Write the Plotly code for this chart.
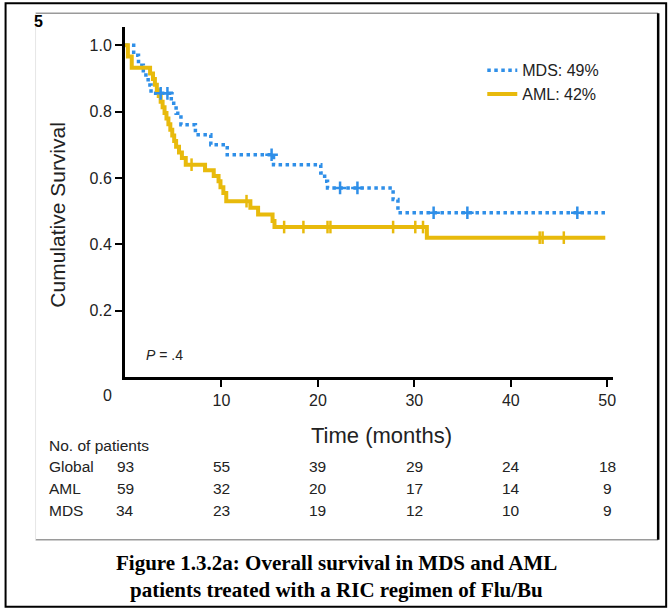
import numpy as np
import plotly.graph_objects as go

# ---------------- data ----------------
mds_t = [0, 0.9, 1.4, 1.9, 2.4, 2.7, 4.8, 5.3, 5.8, 7.3, 8.9, 10.6, 15.4, 20.3, 20.7, 21.0, 27.8, 28.3, 49.8]
mds_s = [1.0, 0.97, 0.94, 0.91, 0.88, 0.855, 0.825, 0.795, 0.76, 0.73, 0.70, 0.67, 0.64, 0.615, 0.59, 0.57, 0.535, 0.495, 0.495]
mds_cens = [3.7, 4.4, 15.2, 22.3, 24.1, 32.0, 35.5, 46.9]

aml_t = [0, 0.3, 0.7, 2.6, 2.9, 3.1, 3.3, 3.5, 3.7, 3.9, 4.1, 4.3, 4.5, 4.7, 4.9, 5.1, 5.3, 5.6, 5.9, 6.3,
         8.3, 9.2, 9.7, 9.9, 10.2, 10.5, 13.0, 13.8, 15.3, 15.5, 31.3, 49.8]
aml_s = [1.0, 0.966, 0.932, 0.915, 0.898, 0.881, 0.864, 0.847, 0.83, 0.813, 0.796, 0.779, 0.762, 0.745,
         0.728, 0.711, 0.694, 0.677, 0.66, 0.64, 0.623, 0.606, 0.59, 0.572, 0.555, 0.53, 0.51, 0.49,
         0.47, 0.452, 0.42, 0.42]
aml_cens = [6.9, 12.6, 16.5, 18.5, 21.0, 21.3, 27.8, 30.1, 30.9, 43.0, 43.3, 45.5]

legend_names = ["MDS: 49%", "AML: 42%"]

x_ticks = [10, 20, 30, 40, 50]
y_ticks = [0.2, 0.4, 0.6, 0.8, 1.0]
y_ticklabels = ["0.2", "0.4", "0.6", "0.8", "1.0"]

risk_times = [0, 10, 20, 30, 40, 50]
risk_groups = ["Global", "AML", "MDS"]
risk_global = [93, 55, 39, 29, 24, 18]
risk_aml = [59, 32, 20, 17, 14, 9]
risk_mds = [34, 23, 19, 12, 10, 9]

caption = ["Figure 1.3.2a: Overall survival in MDS and AML",
           "patients treated with a RIC regimen of Flu/Bu"]

BLUE = "#2F8FE8"
GOLD = "#E8BA0C"

# ---------------- layout geometry ----------------
W, H = 672, 613
L, R, T, B = 124.5, 59.2, 26.7, 236.0
pw, ph = W - L - R, H - T - B


def px(x):
    return (x - L) / pw


def py(y):
    return (H - B - y) / ph


def step_value(times, surv, t):
    i = np.searchsorted(np.asarray(times), t, side="right") - 1
    return surv[max(i, 0)]


fig = go.Figure()

fig.add_trace(go.Scatter(x=mds_t, y=mds_s, mode="lines", line_shape="hv",
                         line=dict(color=BLUE, width=3.5, dash="dot"),
                         name=legend_names[0]))
fig.add_trace(go.Scatter(x=aml_t, y=aml_s, mode="lines", line_shape="hv",
                         line=dict(color=GOLD, width=4),
                         name=legend_names[1]))

fig.add_trace(go.Scatter(x=mds_cens, y=[step_value(mds_t, mds_s, t) for t in mds_cens],
                         mode="markers", showlegend=False,
                         marker=dict(symbol="cross-thin-open", size=9, color=BLUE,
                                     line=dict(color=BLUE, width=2.5))))
fig.add_trace(go.Scatter(x=aml_cens, y=[step_value(aml_t, aml_s, t) for t in aml_cens],
                         mode="markers", showlegend=False,
                         marker=dict(symbol="line-ns-open", size=9, color=GOLD,
                                     line=dict(color=GOLD, width=2.5))))

SANS = "Liberation Sans, Arial, sans-serif"
TXT = "#222"
ann = []
# origin label
ann.append(dict(x=px(107), y=py(396), text="0", font=dict(family=SANS, size=16, color=TXT)))
# P value
ann.append(dict(x=px(144), y=py(355), text="<i>P</i> = .4", xanchor="left",
                font=dict(family=SANS, size=14, color=TXT)))
# axis titles
ann.append(dict(x=px(381), y=py(436), text="Time (months)",
                font=dict(family=SANS, size=22, color=TXT)))
ann.append(dict(x=px(57), y=py(215), text="Cumulative Survival", textangle=-90,
                font=dict(family=SANS, size=21, color=TXT)))
# risk table
ann.append(dict(x=px(46), y=py(446), text="No. of patients", xanchor="left",
                font=dict(family=SANS, size=15.5, color=TXT)))
row_y = [467, 489, 511]
for name, vals, yy in zip(risk_groups, [risk_global, risk_aml, risk_mds], row_y):
    ann.append(dict(x=px(46), y=py(yy), text=name, xanchor="left",
                    font=dict(family=SANS, size=15.5, color=TXT)))
    for t, v in zip(risk_times, vals):
        ann.append(dict(x=t, xref="x", y=py(yy), text=str(v),
                        font=dict(family=SANS, size=15.5, color=TXT)))
# stray glyph top-left
ann.append(dict(x=px(38), y=py(21), text="<b>5</b>",
                font=dict(family=SANS, size=16, color="#000")))
# caption
SERIF = "Liberation Serif, Times New Roman, serif"
ann.append(dict(x=px(336), y=py(563), text="<b>" + caption[0] + "</b>",
                font=dict(family=SERIF, size=21, color="#000")))
ann.append(dict(x=px(336), y=py(590), text="<b>" + caption[1] + "</b>",
                font=dict(family=SERIF, size=21, color="#000")))
for a in ann:
    a.setdefault("xref", "paper")
    a.setdefault("yref", "paper")
    a.setdefault("xanchor", "center")
    a.setdefault("yanchor", "middle")
    a["showarrow"] = False

shapes = [
    # outer frame
    dict(type="rect", xref="paper", yref="paper", x0=px(5), x1=px(666), y0=py(607), y1=py(3),
         line=dict(color="#000", width=2)),
    # inner figure frame
    dict(type="line", xref="paper", yref="paper", x0=px(35), x1=px(658), y0=py(13), y1=py(13),
         line=dict(color="#9a9a9a", width=1.5)),
    dict(type="line", xref="paper", yref="paper", x0=px(35), x1=px(658), y0=py(540), y1=py(540),
         line=dict(color="#9a9a9a", width=1.5)),
    dict(type="line", xref="paper", yref="paper", x0=px(35), x1=px(35), y0=py(13), y1=py(540),
         line=dict(color="#e6e6e6", width=1)),
    dict(type="line", xref="paper", yref="paper", x0=px(658), x1=px(658), y0=py(13), y1=py(540),
         line=dict(color="#000", width=2.5)),
]

fig.update_layout(
    width=W, height=H,
    margin=dict(l=L, r=R, t=T, b=B, autoexpand=False),
    paper_bgcolor="white", plot_bgcolor="white",
    showlegend=True,
    legend=dict(x=px(482), y=py(53), xanchor="left", yanchor="top",
                bgcolor="rgba(0,0,0,0)", font=dict(family=SANS, size=16, color=TXT),
                itemwidth=30, tracegroupgap=0),
    xaxis=dict(range=[0, 50.6], tickvals=x_ticks, ticks="outside", ticklen=7, tickwidth=2,
               tickcolor="#000", showline=True, linecolor="#000", linewidth=3,
               showgrid=False, zeroline=False,
               tickfont=dict(family=SANS, size=16, color=TXT)),
    yaxis=dict(range=[0, 1.055], tickvals=y_ticks, ticktext=y_ticklabels, ticks="outside",
               ticklen=7, tickwidth=2, tickcolor="#000", showline=True, linecolor="#000",
               linewidth=3, showgrid=False, zeroline=False,
               tickfont=dict(family=SANS, size=16, color=TXT)),
    annotations=ann,
    shapes=shapes,
)

fig.write_html("out.html", config={"displayModeBar": False},
               post_script="document.body.style.margin='0';document.body.style.padding='0';")
